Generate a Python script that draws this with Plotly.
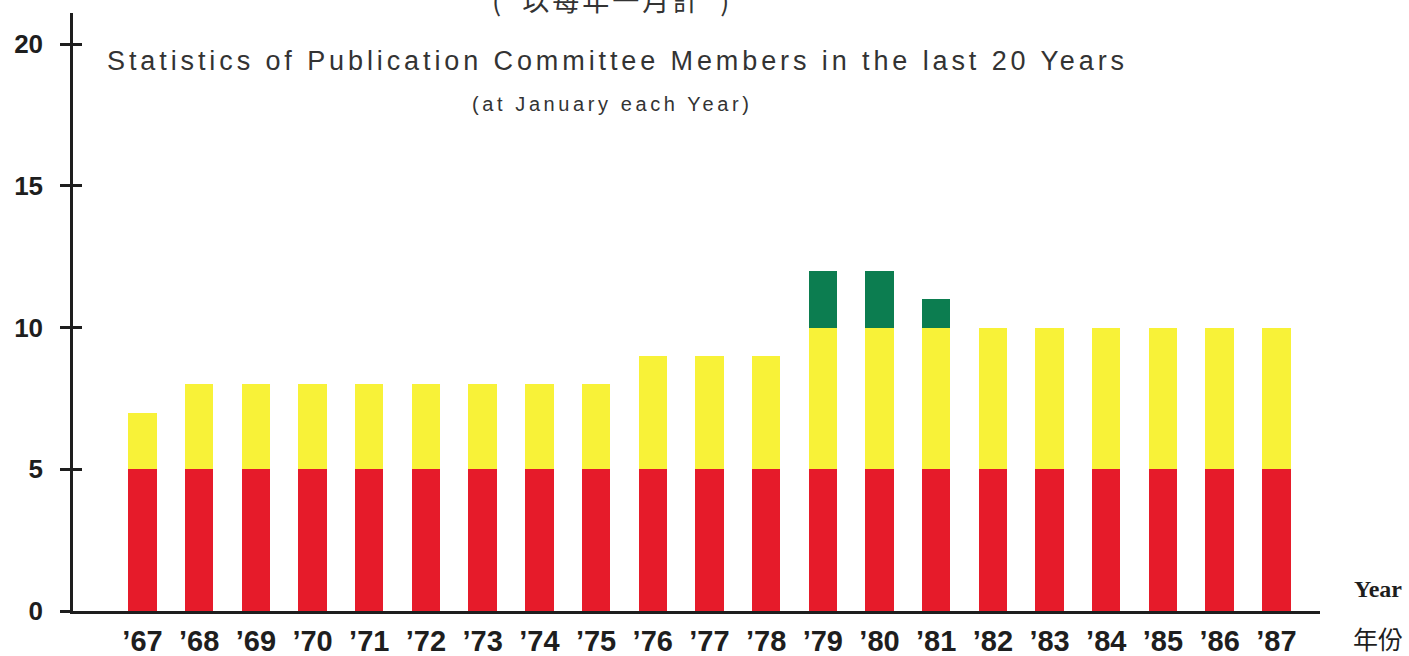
import plotly.graph_objects as go

# Publication committee membership, January of each year
years = ["’67", "’68", "’69", "’70", "’71", "’72", "’73", "’74", "’75", "’76", "’77",
         "’78", "’79", "’80", "’81", "’82", "’83", "’84", "’85", "’86", "’87"]
red_members = [5, 5, 5, 5, 5, 5, 5, 5, 5, 5, 5, 5, 5, 5, 5, 5, 5, 5, 5, 5, 5]
yellow_members = [2, 3, 3, 3, 3, 3, 3, 3, 3, 4, 4, 4, 5, 5, 5, 5, 5, 5, 5, 5, 5]
green_members = [0, 0, 0, 0, 0, 0, 0, 0, 0, 0, 0, 0, 2, 2, 1, 0, 0, 0, 0, 0, 0]
y_ticks = [0, 5, 10, 15, 20]

RED = "#e61b2a"
YELLOW = "#f8f238"
GREEN = "#0c7d50"
INK = "#1e1e1e"

x_idx = list(range(len(years)))

fig = go.Figure()
for vals, col in [(red_members, RED), (yellow_members, YELLOW), (green_members, GREEN)]:
    fig.add_trace(go.Bar(x=x_idx, y=vals, marker=dict(color=col, line=dict(width=0)),
                         showlegend=False, hoverinfo="skip"))
# empty trace so the overlaid axis carrying the inner tick stubs is rendered
fig.add_trace(go.Scatter(x=[], y=[], yaxis="y2", showlegend=False, hoverinfo="skip"))

W, H = 1409, 656
ML, MR, MT, MB = 73, 89, 13, 45
PW, PH = W - ML - MR, H - MT - MB


def px(xp):
    return (xp - ML) / PW


def py(yp):
    return 1 - (yp - MT) / PH


fig.update_layout(
    width=W, height=H,
    margin=dict(l=ML, r=MR, t=MT, b=MB, autoexpand=False),
    paper_bgcolor="white", plot_bgcolor="white",
    barmode="stack", bargap=0.5,
    xaxis=dict(range=[-1.226, 20.77], tickmode="array", tickvals=x_idx, ticktext=years,
               showgrid=False, zeroline=False, showline=True, linecolor=INK, linewidth=2.5,
               ticks="", ticklabelstandoff=2, automargin=False,
               tickfont=dict(family="Liberation Sans, Arial", size=29, color=INK,
                             weight="bold")),
    yaxis=dict(range=[0, 21.1], tickmode="array", tickvals=y_ticks,
               showgrid=False, zeroline=False, showline=True, linecolor=INK, linewidth=2.5,
               ticks="outside", ticklen=10, tickwidth=2.5, tickcolor=INK,
               ticklabelstandoff=12, automargin=False,
               tickfont=dict(family="Liberation Sans, Arial", size=26, color=INK,
                             weight="bold")),
    yaxis2=dict(range=[0, 21.1], overlaying="y", side="left", tickmode="array",
                tickvals=y_ticks[1:], showgrid=False, zeroline=False, showline=False,
                ticks="inside", ticklen=9, tickwidth=2.5, tickcolor=INK,
                showticklabels=False, automargin=False),
)

fig.add_annotation(
    x=px(105), y=py(61), xref="paper", yref="paper", xanchor="left", yanchor="middle",
    text='<span style="letter-spacing:3.9px">Statistics of Publication Committee Members in the last 20 Years</span>',
    showarrow=False, font=dict(family="Liberation Sans, Arial", size=27, color="#333333"))
fig.add_annotation(
    x=px(612), y=py(104), xref="paper", yref="paper", xanchor="center", yanchor="middle",
    text='<span style="letter-spacing:3.6px">(at January each Year)</span>', showarrow=False,
    font=dict(family="Liberation Sans, Arial", size=20, color="#333333"))
fig.add_annotation(
    x=px(612), y=py(0), xref="paper", yref="paper", xanchor="center", yanchor="middle",
    text='<span style="letter-spacing:3px">(  以每年一月計  )</span>', showarrow=False,
    font=dict(family="Noto Sans CJK TC", size=27, color="#333333"))
fig.add_annotation(
    x=px(1378), y=py(589), xref="paper", yref="paper", xanchor="center", yanchor="middle",
    text="<b>Year</b>", showarrow=False,
    font=dict(family="Liberation Serif, Times New Roman", size=24, color=INK))
fig.add_annotation(
    x=px(1378), y=py(638), xref="paper", yref="paper", xanchor="center", yanchor="middle",
    text="年份", showarrow=False,
    font=dict(family="Noto Sans CJK TC", size=25, color=INK))

fig.write_html("out.html")
